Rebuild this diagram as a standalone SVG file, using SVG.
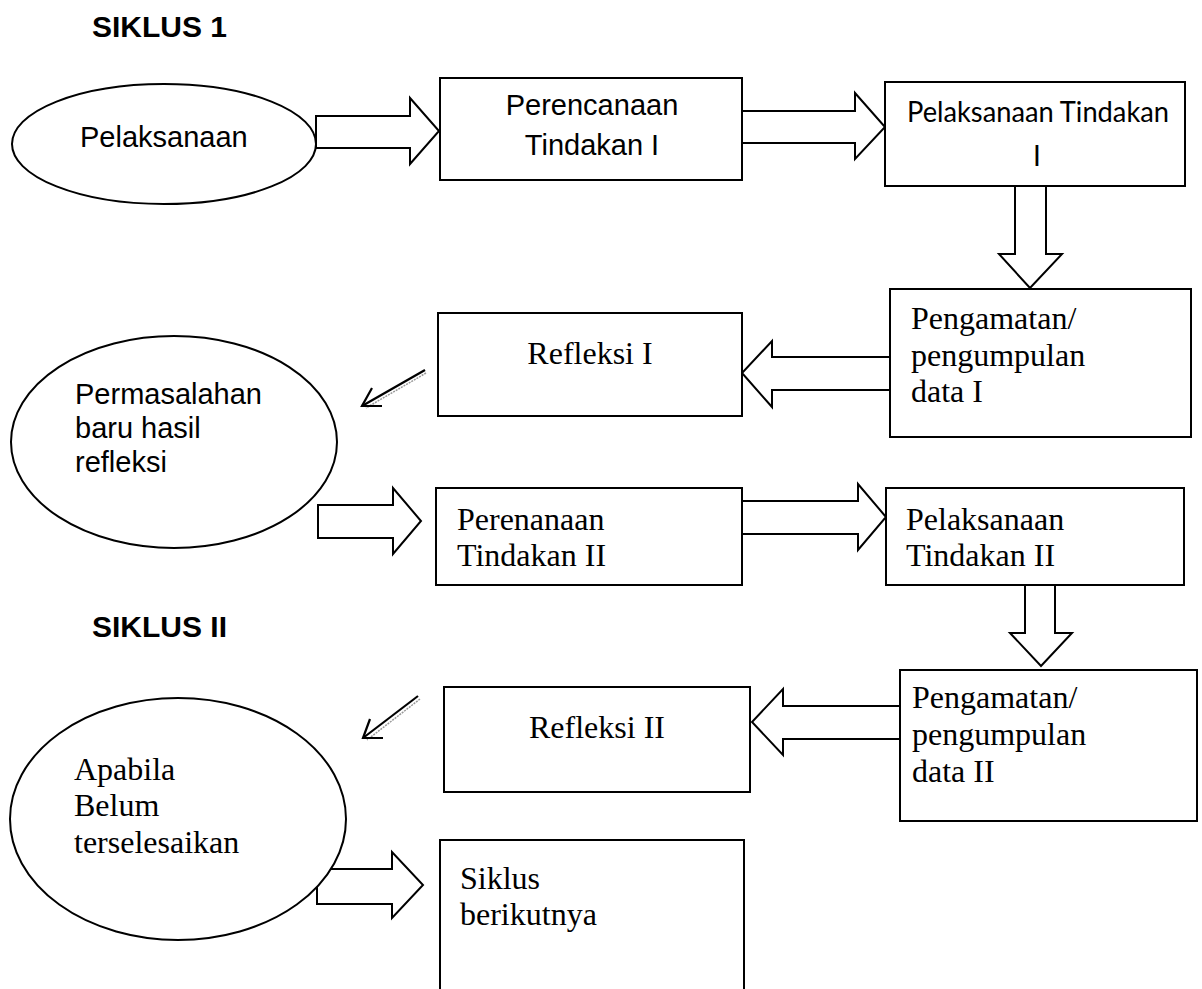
<svg xmlns="http://www.w3.org/2000/svg" width="1202" height="989" viewBox="0 0 1202 989">
<style>
.shape{fill:#fff;stroke:#000;stroke-width:2}
.blk{fill:#fff;stroke:#000;stroke-width:2;stroke-linejoin:miter}
.thin{fill:none;stroke:#000;stroke-width:2.2}
.shade{fill:none;stroke:#999;stroke-width:1.5;stroke-dasharray:2 1}
.ar{font-family:"Liberation Sans",Arial,sans-serif;font-size:29px;fill:#000}
.tm{font-family:"Liberation Serif","Times New Roman",serif;font-size:32px;fill:#000}
.cb{font-family:Lato,"Open Sans",sans-serif;font-size:28px;fill:#000}
.hd{font-family:"Liberation Sans",Arial,sans-serif;font-size:30px;font-weight:bold;fill:#000}
</style>
<rect width="1202" height="989" fill="#fff"/>
<text class="hd" x="92" y="37">SIKLUS 1</text>
<text class="hd" x="92" y="637">SIKLUS II</text>

<g id="connectors">
  <polygon class="blk" points="316,116 410,116 410,98 439,131 410,164 410,148 316,148"/>
  <polygon class="blk" points="742,111 855,111 855,93 885,127 855,159 855,143 742,143"/>
  <polygon class="blk" points="1015,186 1046,186 1046,254 1062,254 1030,288 999,254 1015,254"/>
  <polygon class="blk" points="890,357 772,357 772,341 742,373 772,407 772,390 890,390"/>
  <polygon class="blk" points="318,505 393,505 393,488 421,521 393,554 393,538 318,538"/>
  <polygon class="blk" points="742,501 858,501 858,484 886,517 858,550 858,534 742,534"/>
  <polygon class="blk" points="1025,585 1055,585 1055,633 1072,633 1041,666 1010,633 1025,633"/>
  <polygon class="blk" points="900,706 783,706 783,689 752,722 783,755 783,739 900,739"/>
  <polygon class="blk" points="317,869 392,869 392,852 423,885 392,918 392,904 317,904"/>
  <g id="thin1">
    <line class="shade" x1="426" y1="373" x2="366" y2="408"/>
    <line class="thin" x1="425" y1="370" x2="362" y2="406"/>
    <polyline class="thin" points="372,388 362,406 382,406"/>
  </g>
  <g id="thin2">
    <line class="shade" x1="420" y1="699" x2="367" y2="740"/>
    <line class="thin" x1="418" y1="696" x2="363" y2="738"/>
    <polyline class="thin" points="370,719 363,738 383,738"/>
  </g>
</g>

<g id="n-pelaksanaan">
  <ellipse class="shape" cx="164" cy="144" rx="152" ry="60"/>
  <text class="ar" x="80" y="147">Pelaksanaan</text>
</g>
<g id="n-perencanaan1">
  <rect class="shape" x="440" y="78" width="302" height="102"/>
  <text class="ar" x="592" y="115" text-anchor="middle">Perencanaan</text>
  <text class="ar" x="592" y="155" text-anchor="middle">Tindakan I</text>
</g>
<g id="n-pelaksanaan1">
  <rect class="shape" x="885" y="82" width="300" height="104"/>
  <text class="cb" x="907" y="122" textLength="262" lengthAdjust="spacingAndGlyphs">Pelaksanaan Tindakan</text>
  <text class="cb" x="1037" y="166" text-anchor="middle">I</text>
</g>
<g id="n-pengamatan1">
  <rect class="shape" x="890" y="289" width="301" height="148"/>
  <text class="tm" x="911" y="329">Pengamatan/</text>
  <text class="tm" x="911" y="366">pengumpulan</text>
  <text class="tm" x="911" y="402">data I</text>
</g>
<g id="n-refleksi1">
  <rect class="shape" x="438" y="313" width="304" height="103"/>
  <text class="tm" x="590" y="364" text-anchor="middle">Refleksi I</text>
</g>
<g id="n-permasalahan">
  <ellipse class="shape" cx="174" cy="442" rx="163" ry="106"/>
  <text class="ar" x="75" y="404">Permasalahan</text>
  <text class="ar" x="75" y="438">baru hasil</text>
  <text class="ar" x="75" y="472">refleksi</text>
</g>
<g id="n-perenanaan2">
  <rect class="shape" x="436" y="488" width="306" height="97"/>
  <text class="tm" x="457" y="530">Perenanaan</text>
  <text class="tm" x="457" y="566">Tindakan II</text>
</g>
<g id="n-pelaksanaan2">
  <rect class="shape" x="886" y="488" width="298" height="97"/>
  <text class="tm" x="906" y="530">Pelaksanaan</text>
  <text class="tm" x="906" y="566">Tindakan II</text>
</g>
<g id="n-pengamatan2">
  <rect class="shape" x="900" y="670" width="297" height="151"/>
  <text class="tm" x="912" y="708">Pengamatan/</text>
  <text class="tm" x="912" y="745">pengumpulan</text>
  <text class="tm" x="912" y="782">data II</text>
</g>
<g id="n-refleksi2">
  <rect class="shape" x="444" y="687" width="306" height="105"/>
  <text class="tm" x="597" y="738" text-anchor="middle">Refleksi II</text>
</g>
<g id="n-apabila">
  <ellipse class="shape" cx="178" cy="819" rx="168" ry="121"/>
  <text class="tm" x="74" y="780">Apabila</text>
  <text class="tm" x="74" y="816">Belum</text>
  <text class="tm" x="74" y="853">terselesaikan</text>
</g>
<g id="n-siklus">
  <rect class="shape" x="440" y="840" width="304" height="160"/>
  <text class="tm" x="460" y="889">Siklus</text>
  <text class="tm" x="460" y="925">berikutnya</text>
</g>
</svg>
